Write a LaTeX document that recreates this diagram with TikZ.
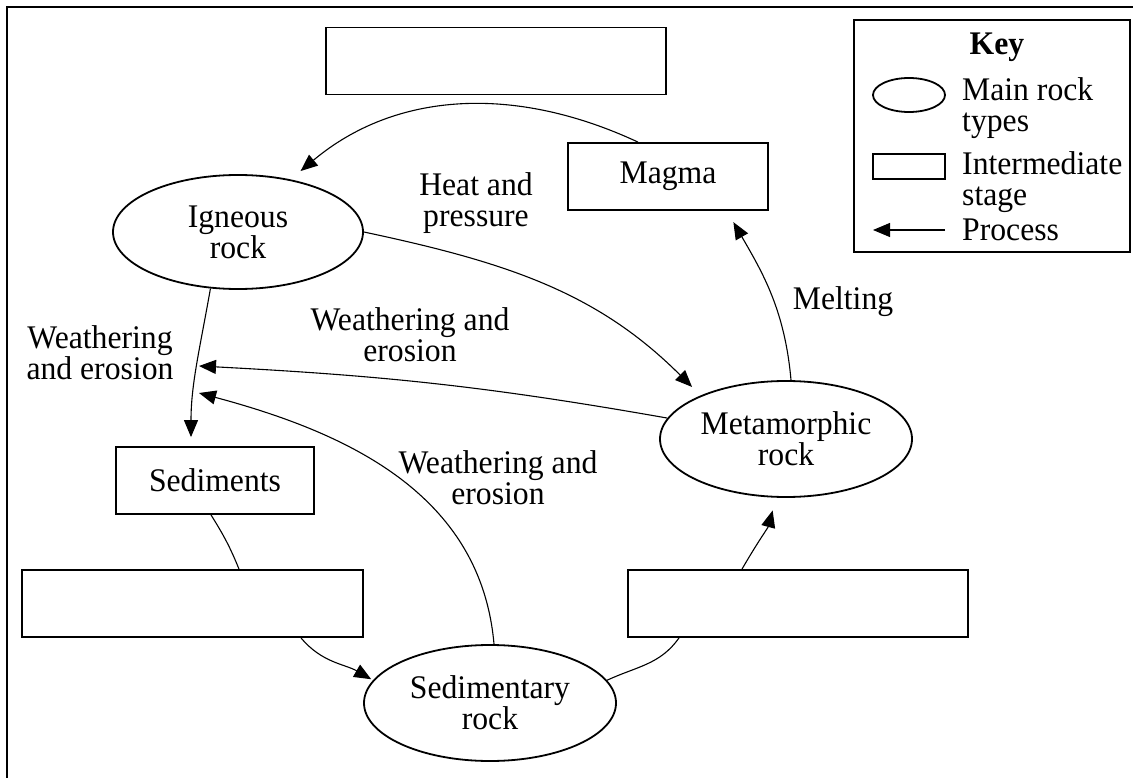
\documentclass[tikz,border=0pt]{standalone}
\usepackage{fontspec}
\setmainfont{Liberation Serif}[FakeStretch=0.96]
\usepackage{tikz}
\usetikzlibrary{shapes.geometric,arrows.meta}
\tikzset{
  rock/.style={ellipse, draw, line width=1.8, inner sep=0pt, align=center,
    minimum width=252, minimum height=116},
  stage/.style={rectangle, draw, line width=1.8, inner sep=0pt,
    minimum width=340, minimum height=67},
  process/.style={-{Triangle[length=17pt,width=14pt]}, line width=1.1},
  link/.style={line width=1.1},
  caption/.style={align=center, inner sep=0pt},
}

\begin{document}
\begin{tikzpicture}[x=1pt, y=-1pt, font=\fontsize{33}{31}\selectfont]
    \useasboundingbox (0,0) rectangle (1133,778);
    \draw [line width=2.5] (7,778) -- (7,7) -- (1133,7);

    \node [stage] (top) at (496,61) {};
    \node [stage, minimum width=200] (magma) at (668,176.5) {Magma};
    \node [stage, minimum width=198] (sediments) at (215,480.5) {Sediments};
    \node [stage, minimum width=341] (boxL) at (192.5,603.5) {};
    \node [stage] (boxR) at (798,603.5) {};

    \node [rock, minimum width=250, minimum height=114] (igneous) at (238,232) {Igneous\\rock};
    \node [rock] (meta) at (786,439) {Metamorphic\\rock};
    \node [rock] (sedimentary) at (490,703) {Sedimentary\\rock};

    \node [caption] (heat) at (476,203) {Heat and\\pressure};
    \node [caption] (melting) at (843,302) {Melting};
    \node [caption] (weatherA) at (100,353) {Weathering\\and erosion};
    \node [caption] (weatherB) at (410,335) {Weathering and\\erosion};
    \node [caption] (weatherC) at (498,478) {Weathering and\\erosion};

    \coordinate (tipA) at (199,366);
    \coordinate (tipB) at (199,393);

    \draw [process, shorten >=13] ([xshift=-30]magma.north) to[out=155, in=40] (igneous.45);
    \draw [process, shorten >=12] (igneous.east) to[out=-12, in=135] (meta.153);
    \draw [process, shorten >=9] (igneous.244) to[out=-100, in=90] ([xshift=-24]sediments.north);
    \draw [process] (meta.170) to[out=170, in=-3] (tipA);
    \draw [process] ([xshift=4]sedimentary.north) to[out=95, in=-15] (tipB);
    \draw [process, shorten >=13] ([xshift=5]meta.north) to[out=95, in=-60] ([xshift=-42]magma.south east);
    \draw [link] ([xshift=-4]sediments.south) to[out=-58, in=112] ([xshift=46.5]boxL.north);
    \draw [process, shorten >=2] ([xshift=108.5]boxL.south) to[out=-50, in=150] (sedimentary.169);
    \draw [link] (sedimentary.11) to[out=25, in=-125] ([xshift=-119]boxR.south);
    \draw [process, shorten >=13] ([xshift=-56]boxR.north) to[out=60, in=-105] ([xshift=-10]meta.south);

    \node [draw, line width=1.3, inner sep=0pt, minimum width=276, minimum height=232] (key) at (992,136) {};
    \node [font=\fontsize{33}{31}\selectfont\bfseries] (keytitle) at (997,47) {Key};
    \node [rock, minimum width=72, minimum height=34] (keyrock) at (909,95) {};
    \node [stage, minimum width=72, minimum height=25] (keystage) at (909,166.5) {};
    \coordinate (keyend) at (873,230);
    \coordinate (keystart) at (945,230);
    \draw [process] (keystart) -- (keyend);
    \node [caption, align=left, anchor=west] (keyrocktext) at (962,108) {Main rock\\types};
    \node [caption, align=left, anchor=west] (keystagetext) at (962,182) {Intermediate\\stage};
    \node [caption, anchor=west] (keyprocess) at (962,230) {Process};
\end{tikzpicture}
\end{document}
